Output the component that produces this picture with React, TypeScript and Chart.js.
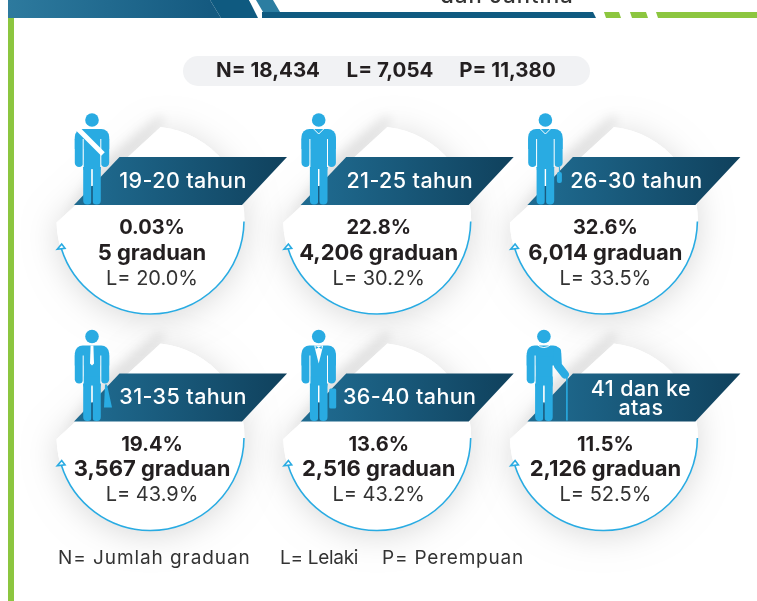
import React, { useEffect, useRef } from "react";
import { Chart, registerables } from "chart.js";

Chart.register(...registerables);

// ---- values ----
const ageGroups: string[][] = [
  ["19-20 tahun"],
  ["21-25 tahun"],
  ["26-30 tahun"],
  ["31-35 tahun"],
  ["36-40 tahun"],
  ["41 dan ke", "atas"],
];
const sharePct = ["0.03%", "22.8%", "32.6%", "19.4%", "13.6%", "11.5%"];
const graduates = ["5", "4,206", "6,014", "3,567", "2,516", "2,126"];
const malePct = ["20.0%", "30.2%", "33.5%", "43.9%", "43.2%", "52.5%"];
const totals = ["N= 18,434", "L= 7,054", "P= 11,380"];
const footnotes = ["N= Jumlah graduan", "L= Lelaki", "P= Perempuan"];
const headerTail = "dan Jantina";

// ---- layout ----
const cardX = [150.5, 377.2, 603.9, 150.5, 377.2, 603.9];
const cardY = [220.5, 220.5, 220.5, 437, 437, 437];
const R = 94;
const W = 757;
const H = 601;
const FONT = "Inter, 'Open Sans', sans-serif";
const BLUE = "#29abe2";
const INK = "#231f20";

type Ctx = CanvasRenderingContext2D;

function poly(ctx: Ctx, pts: number[][], fill: string | CanvasGradient) {
  ctx.beginPath();
  pts.forEach((p, i) => (i ? ctx.lineTo(p[0], p[1]) : ctx.moveTo(p[0], p[1])));
  ctx.closePath();
  ctx.fillStyle = fill;
  ctx.fill();
}

function text(ctx: Ctx, s: string, x: number, y: number, font: string, color: string, align: CanvasTextAlign = "center", spacing = 0) {
  ctx.font = font;
  ctx.fillStyle = color;
  ctx.textAlign = align;
  ctx.textBaseline = "middle";
  (ctx as any).letterSpacing = spacing + "px";
  ctx.fillText(s, x, y);
  (ctx as any).letterSpacing = "0px";
}

function discPath(ctx: Ctx, cx: number, cy: number) {
  ctx.beginPath();
  ctx.arc(cx, cy, R, Math.atan2(-93, 10), Math.atan2(2, -94), false);
  ctx.closePath();
}

function drawFrame(ctx: Ctx) {
  ctx.fillStyle = "#ffffff";
  ctx.fillRect(0, 0, W, H);
  const g = ctx.createLinearGradient(8, 0, 210, 0);
  g.addColorStop(0, "#2d7a9e");
  g.addColorStop(1, "#155a80");
  poly(ctx, [[8, 0], [210, 0], [221, 18], [8, 18]], g);
  poly(ctx, [[210, 0], [249, 0], [261, 18], [221, 18]], "#0f5a80");
  poly(ctx, [[249, 0], [256, 0], [265, 18], [258, 18]], "#ffffff");
  poly(ctx, [[256, 0], [273, 0], [280, 12], [263, 12]], "#2b7da1");
  poly(ctx, [[262, 12], [593, 12], [596, 18], [262, 18]], "#0f5a80");
  poly(ctx, [[604, 12], [619, 12], [621, 18], [606, 18]], "#8cc63f");
  poly(ctx, [[630, 12], [646, 12], [648, 18], [632, 18]], "#8cc63f");
  poly(ctx, [[656, 12], [757, 12], [757, 18], [658, 18]], "#8cc63f");
  ctx.fillStyle = "#8cc63f";
  ctx.fillRect(8, 18, 6, H - 18);
  text(ctx, headerTail, 507, -4, `500 22px ${FONT}`, "#333333", "center", 1);
}

function drawDiscs(ctx: Ctx, pts: { x: number; y: number }[]) {
  pts.forEach((p) => {
    ctx.save();
    ctx.shadowColor = "rgba(0,0,0,0.15)";
    ctx.shadowBlur = 32;
    ctx.shadowOffsetY = 4;
    ctx.fillStyle = "#ffffff";
    discPath(ctx, p.x, p.y);
    ctx.fill();
    ctx.restore();
    // soft crease shadow along the folded edge
    ctx.save();
    ctx.filter = "blur(5px)";
    poly(
      ctx,
      [
        [p.x - 88, p.y - 2],
        [p.x + 16, p.y - 100],
        [p.x + 8, p.y - 106],
        [p.x - 50, p.y - 58],
      ],
      "rgba(0,0,0,0.07)"
    );
    ctx.restore();
  });
  pts.forEach((p) => {
    ctx.fillStyle = "#ffffff";
    discPath(ctx, p.x, p.y);
    ctx.fill();
  });
}

function drawArc(ctx: Ctx, cx: number, cy: number) {
  ctx.strokeStyle = BLUE;
  ctx.lineWidth = 1.6;
  ctx.beginPath();
  ctx.arc(cx, cy, R - 0.5, 0.01, Math.atan2(28, -89), false);
  ctx.stroke();
  ctx.beginPath();
  ctx.moveTo(cx - 93.2, cy + 28.8);
  ctx.lineTo(cx - 85.5, cy + 27.8);
  ctx.lineTo(cx - 88.8, cy + 23.6);
  ctx.closePath();
  ctx.fillStyle = "#ffffff";
  ctx.fill();
  ctx.stroke();
}

function drawRibbon(ctx: Ctx, cx: number, cy: number) {
  const g = ctx.createLinearGradient(cx - 60, 0, cx + 130, 0);
  g.addColorStop(0, "#1f6a8f");
  g.addColorStop(1, "#10425e");
  poly(ctx, [[cx - 76.5, cy - 15.5], [cx - 31, cy - 63.5], [cx + 136.5, cy - 63.5], [cx + 91.5, cy - 15.5]], g);
}

function rr(ctx: Ctx, x: number, y: number, w: number, h: number, r: number | number[]) {
  ctx.beginPath();
  ctx.roundRect(x, y, w, h, r as any);
  ctx.fill();
}

function drawFigure(ctx: Ctx, kind: number, hx: number, hy: number) {
  ctx.save();
  ctx.translate(hx, hy);
  ctx.fillStyle = BLUE;
  ctx.beginPath();
  ctx.arc(0, 0, 6.8, 0, Math.PI * 2);
  ctx.fill();
  const old = kind === 5;
  // shoulders and torso
  rr(ctx, -17.2, 9, 34.4, 20, [8, 8, 0, 0]);
  ctx.fillRect(-8.6, 20, 17.2, 30);
  // arms
  rr(ctx, -17.2, 15, 8.6, 32, 4.3);
  if (old) {
    ctx.strokeStyle = BLUE;
    ctx.lineWidth = 8;
    ctx.lineCap = "round";
    ctx.lineJoin = "round";
    ctx.beginPath();
    ctx.moveTo(13.2, 15);
    ctx.lineTo(14, 29);
    ctx.lineTo(21, 38);
    ctx.stroke();
    ctx.lineWidth = 1.6;
    ctx.lineCap = "butt";
    ctx.beginPath();
    ctx.moveTo(23, 40);
    ctx.lineTo(23, 84);
    ctx.stroke();
  } else {
    rr(ctx, 8.6, 15, 8.6, 32, 4.3);
  }
  // legs
  rr(ctx, -8.8, 44, 8.4, 40.5, 4);
  rr(ctx, 0.4, 44, 8.4, 40.5, 4);
  ctx.fillRect(-8.8, 40, 17.6, 8);
  // white gaps
  ctx.strokeStyle = "#ffffff";
  ctx.lineWidth = 1;
  ctx.beginPath();
  ctx.moveTo(-8.8, 19);
  ctx.lineTo(-8.8, 47);
  if (!old) {
    ctx.moveTo(8.8, 19);
    ctx.lineTo(8.8, 47);
  }
  ctx.stroke();
  ctx.lineWidth = 1.4;
  ctx.beginPath();
  ctx.moveTo(0, 49);
  ctx.lineTo(0, 66);
  ctx.stroke();
  ctx.strokeStyle = "#1b5b7f";
  ctx.beginPath();
  ctx.moveTo(0, 66);
  ctx.lineTo(0, 84);
  ctx.stroke();
  // clothes
  ctx.strokeStyle = "#ffffff";
  if (kind === 0) {
    ctx.lineWidth = 5;
    ctx.beginPath();
    ctx.moveTo(-14, 9);
    ctx.lineTo(11, 34);
    ctx.stroke();
  } else if (kind === 1 || kind === 2) {
    ctx.lineWidth = 1;
    ctx.beginPath();
    ctx.moveTo(-5.5, 8.5);
    ctx.lineTo(0, 14);
    ctx.lineTo(5.5, 8.5);
    ctx.stroke();
  } else if (kind === 3) {
    poly(ctx, [[-1.4, 9], [1.4, 9], [2, 27], [0, 29], [-2, 27]], "#ffffff");
  } else if (kind === 4) {
    poly(ctx, [[-4.5, 9], [4.5, 9], [0, 27]], "#ffffff");
    poly(ctx, [[-3, 9.5], [0, 11], [3, 9.5], [3, 12.5], [0, 11], [-3, 12.5]], BLUE);
  } else {
    ctx.lineWidth = 1;
    ctx.beginPath();
    ctx.arc(0, 2, 9, 0.4, Math.PI - 0.4);
    ctx.stroke();
  }
  // bags
  if (kind === 2) {
    ctx.strokeStyle = BLUE;
    ctx.lineWidth = 1;
    ctx.beginPath();
    ctx.moveTo(14, 47);
    ctx.lineTo(14, 53);
    ctx.stroke();
    ctx.fillStyle = BLUE;
    rr(ctx, 11.5, 52, 5, 11, 2);
  } else if (kind === 3) {
    poly(ctx, [[13, 48], [15, 48], [20, 71], [12, 71]], BLUE);
  } else if (kind === 4) {
    ctx.fillStyle = BLUE;
    rr(ctx, 10.5, 52, 7, 20, 1.5);
  }
  ctx.restore();
}

const layoutPlugin = {
  id: "infographic",
  beforeDatasetsDraw(chart: any) {
    const ctx: Ctx = chart.ctx;
    const pts = chart.getDatasetMeta(0).data;
    ctx.save();
    drawFrame(ctx);
    drawDiscs(ctx, pts);
    // totals pill
    ctx.fillStyle = "#f1f2f4";
    rr(ctx, 183, 56, 407, 30, 15);
    const totalX = [268, 390, 507.5];
    totals.forEach((s, i) => text(ctx, s, totalX[i], 71, `700 20.5px ${FONT}`, INK));
    // footnotes
    const footX = [58, 280, 382];
    const footSpacing = [0.92, -0.3, 0.8];
    footnotes.forEach((s, i) => text(ctx, s, footX[i], 558.5, `400 19px ${FONT}`, "#333333", "left", footSpacing[i]));
    ctx.restore();
  },
  afterDatasetsDraw(chart: any) {
    const ctx: Ctx = chart.ctx;
    const pts = chart.getDatasetMeta(0).data;
    ctx.save();
    pts.forEach((p: any, i: number) => {
      drawArc(ctx, p.x, p.y);
      drawRibbon(ctx, p.x, p.y);
      drawFigure(ctx, i, p.x - (i === 5 ? 60 : 58.5), p.y - 100.5);
      const lx = p.x + (i === 5 ? 37 : 32.5);
      const lines = ageGroups[i];
      lines.forEach((s, k) => {
        const y = lines.length === 1 ? p.y - 39 : p.y - 47 + k * 19;
        text(ctx, s, lx, y, `500 21.5px ${FONT}`, "#ffffff", "center", 0.4);
      });
      const tx = p.x + 1.5;
      text(ctx, sharePct[i], tx, p.y + 7.5, `700 20px ${FONT}`, INK);
      text(ctx, `${graduates[i]} graduan`, tx, p.y + 32.5, `700 22px ${FONT}`, INK);
      text(ctx, `L= ${malePct[i]}`, tx, p.y + 58, `400 20px ${FONT}`, "#333333");
    });
    ctx.restore();
  },
};

export default function App() {
  const ref = useRef<HTMLCanvasElement | null>(null);
  useEffect(() => {
    if (!ref.current) return;
    const chart = new Chart(ref.current, {
      type: "scatter",
      data: {
        datasets: [
          {
            label: "Kumpulan umur",
            data: cardX.map((x, i) => ({ x, y: cardY[i] })),
            pointRadius: 0,
            pointHoverRadius: 0,
          },
        ],
      },
      options: {
        animation: false,
        responsive: false,
        layout: { padding: 0 },
        events: [],
        plugins: { legend: { display: false }, tooltip: { enabled: false } },
        scales: {
          x: { type: "linear", min: 0, max: W, display: false },
          y: { type: "linear", min: 0, max: H, reverse: true, display: false },
        },
      },
      plugins: [layoutPlugin as any],
    });
    return () => chart.destroy();
  }, []);
  return (
    <div style={{ position: "absolute", left: 0, top: 0, width: W, height: H }}>
      <canvas ref={ref} width={W} height={H} style={{ display: "block" }} />
    </div>
  );
}
